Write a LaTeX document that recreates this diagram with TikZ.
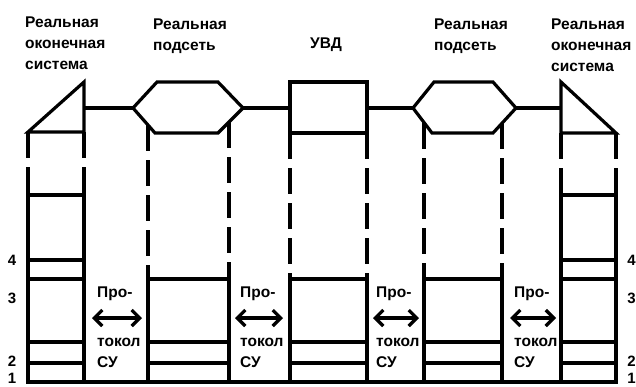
\documentclass[tikz,border=0pt]{standalone}
\usepackage{fontspec}
\setmainfont{Liberation Sans}
\usetikzlibrary{arrows.meta}
\begin{document}
\begin{tikzpicture}[x=1pt,y=-1pt,
  ln/.style={line width=3.2pt, line join=miter},
  dl/.style={line width=3.2pt, dash pattern=on 26pt off 9pt},
  lbl/.style={font=\bfseries\fontsize{15.5}{21}\selectfont, inner sep=0pt, anchor=north west, align=left},
  num/.style={font=\bfseries\fontsize{15}{16}\selectfont, inner sep=0pt},
  arr/.style={line width=3.2pt, {Straight Barb[length=8pt,width=16pt]}-{Straight Barb[length=8pt,width=16pt]}}]
\useasboundingbox (0,0) rectangle (636,386);
% top shapes
\draw[ln] (28,132) -- (84,82) -- (84,132) -- cycle;
\draw[ln] (133,108) -- (157,82) -- (218,82) -- (243,108) -- (218,133) -- (155,133) -- cycle;
\draw[ln] (290,82) rectangle (367,133);
\draw[ln] (413,108) -- (434,82) -- (493,82) -- (516,108) -- (493,133) -- (432,133) -- cycle;
\draw[ln] (561,82) -- (616,133) -- (561,133) -- cycle;
% link coordinates
\coordinate (es1r) at (84,108);
\coordinate (h1l) at (133,108);
\coordinate (h1r) at (243,108);
\coordinate (uvdl) at (290,108);
\coordinate (uvdr) at (367,108);
\coordinate (h2l) at (413,108);
\coordinate (h2r) at (516,108);
\coordinate (es2l) at (561,108);
\draw[ln] (es1r) -- (h1l);
\draw[ln] (h1r) -- (uvdl);
\draw[ln] (uvdr) -- (h2l);
\draw[ln] (h2r) -- (es2l);
% dashed projections
\draw[dl] (28,132) -- (28,195);
\draw[dl] (84,132) -- (84,195);
\draw[dl] (148,125) -- (148,279);
\draw[dl] (229,122) -- (229,279);
\draw[dl] (290,133) -- (290,279);
\draw[dl] (367,133) -- (367,279);
\draw[dl] (424,123) -- (424,279);
\draw[dl] (502,123) -- (502,279);
\draw[dl] (561,133) -- (561,195);
\draw[dl] (616,133) -- (616,195);
% stacks
\draw[ln] (28,195) rectangle (84,382);
\foreach \yy in {260,279,342,363} \draw[ln] (28,\yy) -- (84,\yy);
\draw[ln] (561,195) rectangle (616,382);
\foreach \yy in {260,279,342,363} \draw[ln] (561,\yy) -- (616,\yy);
\foreach \xa/\xb in {148/229,290/367,424/502}{
  \draw[ln] (\xa,382) -- (\xa,279) -- (\xb,279) -- (\xb,382);
  \draw[ln] (\xa,342) -- (\xb,342);
  \draw[ln] (\xa,363) -- (\xb,363);
}
\draw[ln] (28,382) -- (616,382);
% labels
\node[lbl] (l1) at (25,17) {Реальная\\оконечная\\система};
\node[lbl] (l2) at (153,19) {Реальная\\подсеть};
\node[lbl] (l3) at (310,38) {УВД};
\node[lbl] (l4) at (434,19) {Реальная\\подсеть};
\node[lbl] (l5) at (551,19) {Реальная\\оконечная\\система};
% protocols
\foreach \i/\tx/\axl/\axr in {1/97/92/142,2/240/235/283,3/376/373/419,4/514/510/556}{
  \node[lbl] (p\i a) at (\tx,287) {Про-};
  \node[lbl] (p\i b) at (\tx,338) {токол\\СУ};
  \coordinate (a\i l) at (\axl,318);
  \coordinate (a\i r) at (\axr,318);
  \draw[arr] (a\i l) -- (a\i r);
}
% layer numbers
\node[num] (n4l) at (12,260) {4};
\node[num] (n3l) at (12,298) {3};
\node[num] (n2l) at (12,361) {2};
\node[num] (n1l) at (12,378) {1};
\node[num,anchor=east] (n4r) at (636,260) {4};
\node[num,anchor=east] (n3r) at (636,298) {3};
\node[num,anchor=east] (n2r) at (636,361) {2};
\node[num,anchor=east] (n1r) at (636,378) {1};
\end{tikzpicture}
\end{document}
